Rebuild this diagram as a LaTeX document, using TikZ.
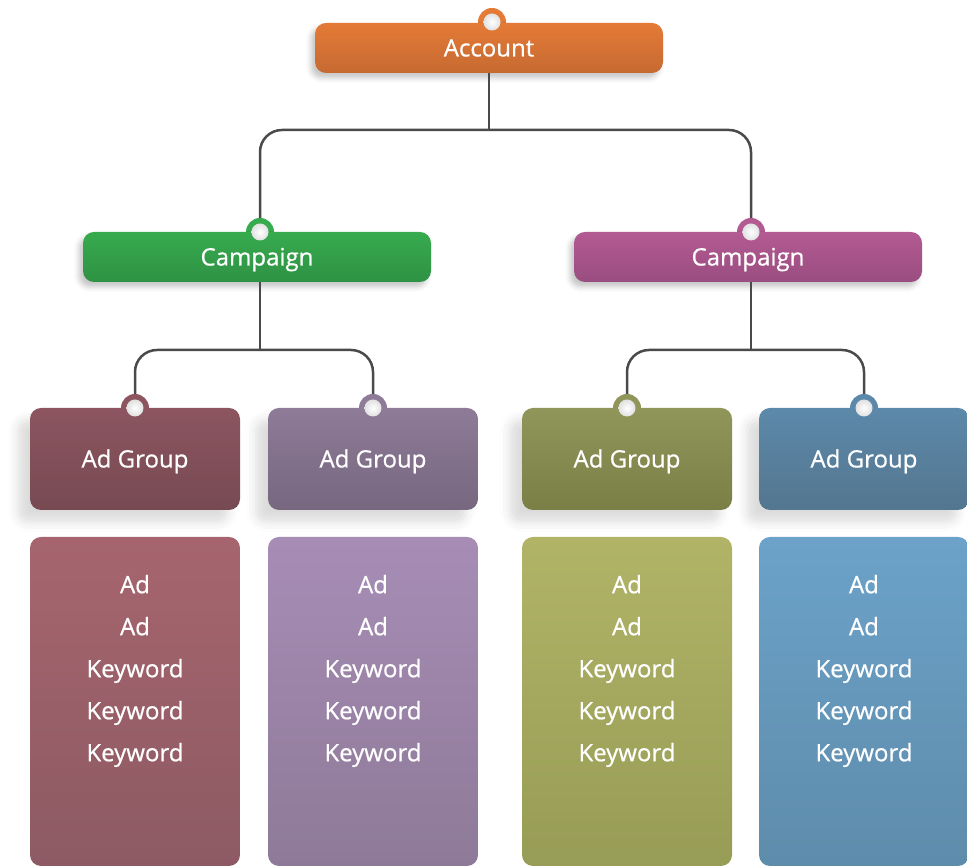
\documentclass[tikz,border=0pt]{standalone}
\usepackage{fontspec}
\setmainfont{Open Sans}[FakeBold=0.7]
\newfontfamily\labfont{Open Sans}[FakeBold=0.7]
\usetikzlibrary{shadows.blur}
\definecolor{lineg}{HTML}{4A4A4A}
\definecolor{accT}{HTML}{E47A36}\definecolor{accB}{HTML}{C66A32}
\definecolor{cAT}{HTML}{37AB4E}\definecolor{cAB}{HTML}{2E9244}
\definecolor{cBT}{HTML}{B35A92}\definecolor{cBB}{HTML}{9A4D80}
\definecolor{gAT}{HTML}{8C5560}\definecolor{gAB}{HTML}{774A52}
\definecolor{gBT}{HTML}{8E7B98}\definecolor{gBB}{HTML}{77677F}
\definecolor{gCT}{HTML}{90955A}\definecolor{gCB}{HTML}{7A7F46}
\definecolor{gDT}{HTML}{5C89AA}\definecolor{gDB}{HTML}{54768F}
\definecolor{bAT}{HTML}{A6656E}\definecolor{bAB}{HTML}{8D5A63}
\definecolor{bBT}{HTML}{A78DB6}\definecolor{bBB}{HTML}{8E7A98}
\definecolor{bCT}{HTML}{B1B467}\definecolor{bCB}{HTML}{979C56}
\definecolor{bDT}{HTML}{6CA2C9}\definecolor{bDB}{HTML}{5E8CAB}
\tikzset{
  base/.style={rounded corners=11pt, inner sep=0pt, text=white,
    text height=20pt, text depth=3pt,
    font=\labfont\fontsize{24}{28}\selectfont},
  bar/.style={base, minimum width=348pt, minimum height=50pt,
    blur shadow={shadow xshift=-4pt, shadow yshift=-5pt, shadow blur radius=5pt, shadow opacity=22}},
  grp/.style={base, minimum width=210pt, minimum height=102pt,
    blur shadow={shadow xshift=-12pt, shadow yshift=-12pt, shadow blur radius=10pt, shadow opacity=14}},
  item/.style={base, minimum width=210pt, minimum height=329pt},
  items/.style={text=white, inner sep=0pt, align=center,
    font=\labfont\fontsize{24}{42}\selectfont},
  ring/.style={circle, minimum size=28pt, inner sep=0pt},
  ball/.style={circle, minimum size=17pt, inner sep=0pt, shading=radial,
    inner color=white, outer color=black!12},
  conn/.style={draw=lineg, line width=2.5pt, rounded corners=22pt},
}
\begin{document}
\begin{tikzpicture}[x=1pt,y=1pt]
\useasboundingbox (0,0) rectangle (967,867);
% Account
\node[ring, fill=accT] (accring) at (492,845) {};
\node[bar, top color=accT, bottom color=accB] (acc) at (489,819) {Account};
\node[ball] (accdot) at (accring.center) {};
% Campaigns
\node[ring, fill=cAT] (c1ring) at (260,635) {};
\node[bar, top color=cAT, bottom color=cAB] (c1) at (257,610) {Campaign};
\node[ball] (c1dot) at (c1ring.center) {};
\node[ring, fill=cBT] (c2ring) at (751,635) {};
\node[bar, top color=cBT, bottom color=cBB] (c2) at (748,610) {Campaign};
\node[ball] (c2dot) at (c2ring.center) {};
% Ad groups
\foreach \n/\x/\c in {1/135/A, 2/373/B, 3/627/C, 4/864/D}{
  \node[ring, fill=g\c T] (g\n ring) at (\x,459) {};
  \node[grp, top color=g\c T, bottom color=g\c B] (g\n) at (\x,408) {Ad Group};
  \node[ball] (g\n dot) at (g\n ring.center) {};
  \node[item, top color=b\c T, bottom color=b\c B] (b\n) at (\x,165.5) {};
  \node[items] (t\n) at (b\n.center |- 0,196) {Ad\\Ad\\Keyword\\Keyword\\Keyword};
}
% Connectors
\coordinate (j1) at (acc.south |- 0,737);
\draw[conn] (acc.south) -- (j1);
\draw[conn] (c1ring.north) |- (j1) -| (c2ring.north);
\coordinate (j2) at (c1ring |- 0,517);
\coordinate (j3) at (c2ring |- 0,517);
\draw[conn] (c1ring |- c1.south) -- (j2);
\draw[conn] (c2ring |- c2.south) -- (j3);
\draw[conn] (g1ring.north) |- (j2) -| (g2ring.north);
\draw[conn] (g3ring.north) |- (j3) -| (g4ring.north);
\end{tikzpicture}
\end{document}
